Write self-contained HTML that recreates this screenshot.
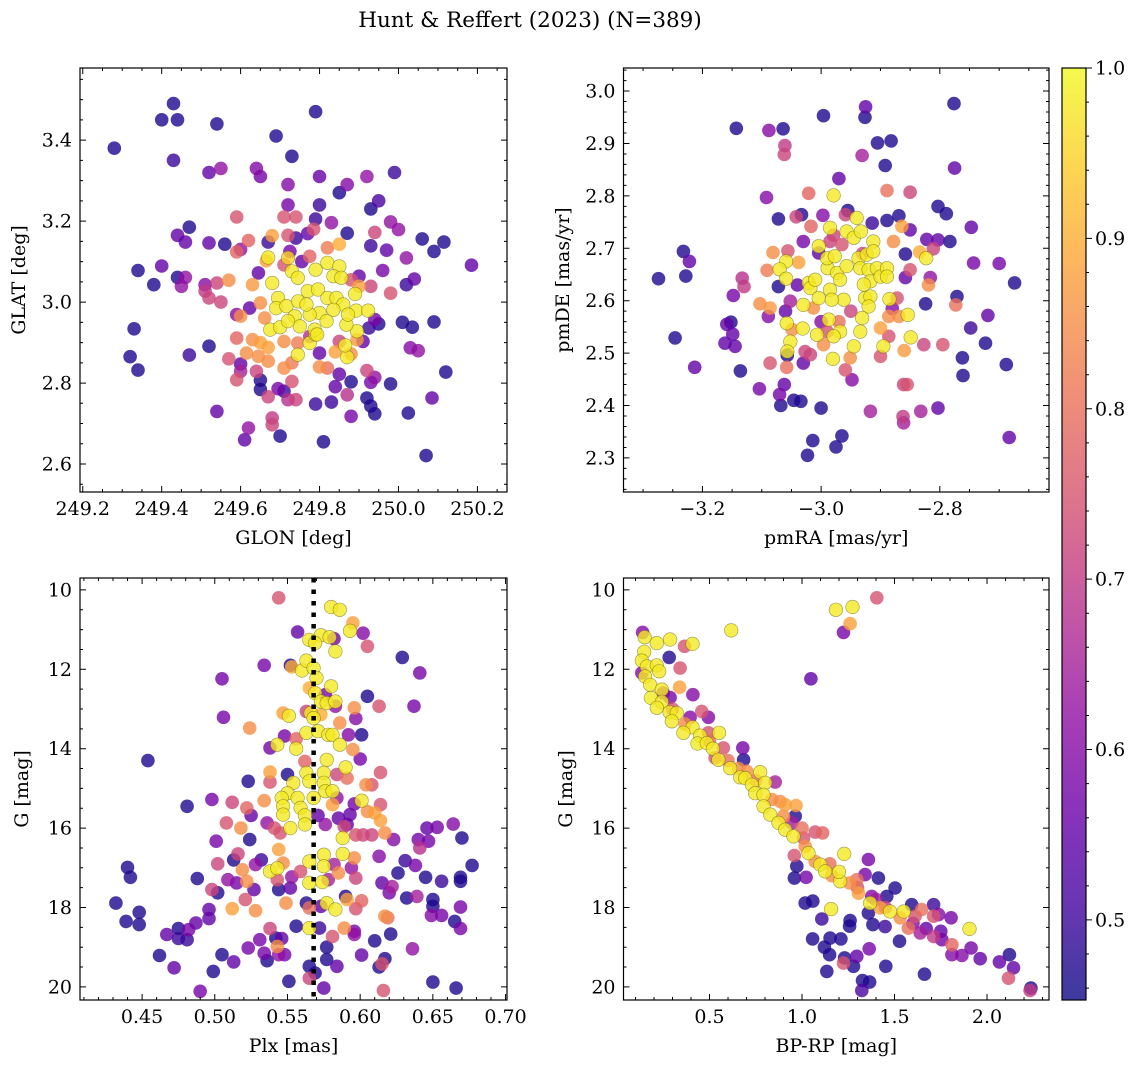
<!DOCTYPE html>
<html><head><meta charset="utf-8">
<style>
html,body{margin:0;padding:0;background:#fff;}
svg{display:block;}
text{font-family:"DejaVu Serif","Liberation Serif",serif;fill:#000;}
</style></head>
<body>
<svg id="fig" width="1136" height="1068" viewBox="0 0 1136 1068" xmlns="http://www.w3.org/2000/svg">
<text x="530" y="27" font-size="21.5" text-anchor="middle">Hunt &amp; Reffert (2023) (N=389)</text>
</svg>
<script>
// ---- Panel 1: GLON / GLAT ----
const p1Lon=[249.28,249.40,249.43,249.44,249.54,249.43,249.69,249.79,249.73,249.52,
249.55,249.64,249.65,249.72,249.80,249.85,249.87,249.92,249.99,249.72,
249.80,249.93,249.95,249.59,249.71,249.74,249.79,249.83,249.98,250.00,
249.94,249.47,249.44,249.46,249.52,249.56,249.62,249.59,249.60,249.68,
249.72,249.67,249.74,249.77,249.785,249.87,249.93,249.97,250.06,250.115,
250.09,250.185,250.02,249.96,250.04,250.02,249.98,249.34,249.40,249.38,
249.44,249.46,249.45,249.51,249.51,249.54,249.57,249.52,249.55,249.33,
249.32,249.34,249.47,249.52,249.59,249.57,249.60,249.60,249.59,249.64,
249.65,249.65,249.67,249.695,249.71,249.73,249.72,249.74,249.54,249.62,
249.61,249.68,249.68,249.70,249.81,250.07,249.79,249.83,249.84,249.85,
249.88,249.87,249.88,249.92,249.93,249.94,249.93,249.94,249.92,249.98,
250.025,250.085,250.12,250.03,250.05,250.01,250.035,250.09,249.95,249.94,
249.925,249.80,249.80,249.82,249.84,249.88,249.87,249.895,249.91,249.615,
249.645,249.67,249.71,249.73,249.63,249.65,249.67,249.71,249.745,249.745,
249.775,249.79,249.865,249.895,249.675,249.70,249.59,249.60,249.65,249.63,
249.645,249.665,249.67,249.71,249.72,249.725,249.755,249.775,249.82,249.85,
249.82,249.85,249.79,249.73,249.745,249.68,249.835,249.855,249.88,249.9,
249.9,249.93,249.89,249.893,249.923,249.695,249.69,249.716,249.746,249.77,
249.796,249.82,249.843,249.86,249.835,249.8,249.775,249.737,249.767,249.818,
249.788,249.75,249.72,249.868,249.872,249.794,249.623,249.661,249.775,249.85];
const p1Lat=[3.38,3.45,3.49,3.45,3.44,3.35,3.41,3.47,3.36,3.32,
3.33,3.33,3.31,3.29,3.31,3.27,3.29,3.31,3.32,3.24,
3.24,3.23,3.25,3.21,3.21,3.21,3.205,3.196,3.198,3.179,
3.172,3.185,3.165,3.148,3.146,3.143,3.152,3.124,3.13,3.164,
3.165,3.148,3.158,3.169,3.18,3.17,3.139,3.128,3.156,3.148,
3.125,3.091,3.109,3.078,3.057,3.043,3.022,3.078,3.089,3.043,
3.061,3.061,3.039,3.043,3.027,3.047,3.054,3.01,3.0,2.934,
2.865,2.832,2.869,2.891,2.911,2.86,2.847,2.829,2.808,2.829,
2.807,2.784,2.766,2.786,2.78,2.804,2.759,2.759,2.73,2.689,
2.66,2.714,2.697,2.669,2.655,2.621,2.748,2.753,2.791,2.822,
2.803,2.771,2.718,2.763,2.743,2.724,2.802,2.814,2.831,2.798,
2.726,2.763,2.827,2.887,2.88,2.95,2.938,2.951,2.946,2.957,
2.936,2.874,2.84,2.837,2.877,2.872,2.864,2.907,2.903,2.874,
2.866,2.854,2.837,2.85,2.907,2.9,2.888,2.903,2.899,2.87,
2.899,2.92,2.893,2.928,2.932,2.938,2.969,2.965,2.998,3.043,
3.072,3.102,3.11,3.092,3.109,3.125,3.1,3.113,3.134,3.143,
3.097,3.088,3.08,3.076,3.06,3.047,3.064,3.06,3.055,3.064,
3.039,3.039,3.02,2.979,2.979,3.01,2.985,2.99,3.002,3.027,
3.031,3.01,3.01,2.994,2.981,2.973,2.969,2.965,2.994,2.953,
2.932,2.94,2.953,2.944,2.969,2.92,2.985,2.961,2.915,2.903];
const p1Prob=[.47,.47,.47,.47,.47,.5,.47,.47,.47,.55,
.62,.6,.58,.6,.56,.47,.6,.62,.5,.58,
.5,.47,.52,.75,.75,.75,.5,.62,.62,.62,
.72,.47,.55,.55,.55,.47,.78,.78,.62,.88,
.75,.5,.5,.55,.75,.47,.5,.55,.47,.47,
.47,.55,.62,.58,.55,.5,.75,.47,.55,.47,
.47,.62,.62,.6,.7,.72,.85,.72,.72,.47,
.47,.47,.5,.47,.78,.75,.55,.65,.75,.72,
.47,.47,.72,.58,.5,.75,.68,.72,.55,.62,
.55,.7,.72,.47,.47,.47,.5,.5,.55,.55,
.47,.68,.58,.47,.47,.47,.58,.62,.72,.47,
.47,.55,.47,.6,.62,.47,.47,.47,.47,.58,
.5,.55,.85,.8,.88,.85,.98,.87,.55,.85,
.85,.85,.85,.82,.85,.88,.88,.85,.82,.98,
.98,.98,.98,.98,.98,.98,.6,.85,.85,.87,
.55,.88,.98,.75,.95,.58,.55,.78,.82,.9,
.98,.98,.98,.98,.98,.98,.98,.98,.75,.55,
.88,.72,.98,.98,.98,.98,.98,.98,.98,.98,
.98,.98,.98,.98,.98,.98,.98,.98,.98,.98,
.98,.98,.98,.98,.98,.98,.55,.85,.68,.72];

// ---- Panel 2: pmRA / pmDE ----
const p2PmRA=[-3.274,-3.232,-3.222,-3.228,-3.246,-3.213,-3.143,-3.088,-3.064,-3.061,
-3.062,-2.996,-2.925,-2.926,-2.905,-2.882,-2.892,-2.931,-2.970,-2.776,
-2.775,-3.092,-3.021,-2.979,-2.889,-2.85,-3.072,-3.042,-3.033,-3.017,
-2.997,-2.955,-2.959,-2.94,-2.914,-2.889,-2.869,-2.864,-2.85,-2.803,
-2.789,-2.747,-2.822,-2.803,-2.783,-2.858,-2.834,-2.823,-2.811,-2.743,
-2.7,-2.674,-2.816,-2.819,-2.85,-2.858,-2.878,-2.771,-2.773,-2.824,
-2.719,-2.748,-2.723,-2.795,-2.762,-2.761,-2.688,-2.683,-2.803,-2.832,
-2.861,-2.855,-2.862,-2.861,-2.917,-2.965,-2.975,-3.014,-3.023,-3.0,
-3.046,-3.034,-3.068,-3.07,-3.062,-3.104,-3.136,-3.162,-3.145,-3.149,
-3.159,-3.152,-3.148,-3.133,-3.13,-3.091,-3.103,-3.086,-3.089,-3.072,
-3.081,-3.056,-3.03,-3.004,-3.004,-2.985,-3.038,-3.059,-3.07,-3.059,
-3.052,-3.058,-3.052,-3.057,-3.049,-3.057,-3.058,-3.086,-3.027,-3.018,
-3.03,-3.03,-3.031,-3.021,-3.018,-3.01,-3.004,-3.013,-3.007,-2.996,
-2.99,-2.989,-2.99,-2.985,-2.977,-2.973,-2.968,-2.985,-2.962,-2.982,
-2.987,-2.968,-2.979,-2.98,-2.957,-2.945,-2.933,-2.957,-2.937,-2.934,
-2.923,-2.912,-2.912,-2.92,-2.906,-2.917,-2.9,-2.889,-2.889,-2.928,
-2.926,-2.917,-2.92,-2.931,-2.934,-2.945,-2.951,-2.959,-2.948,-2.9,
-2.886,-2.869,-2.854,-2.885,-2.872,-2.895,-2.886,-2.9,-2.86,-2.849,
-2.827,-2.965,-2.979,-3.04,-2.95,-2.97,-3.0,-2.93,-2.88,-3.06];
const p2PmDE=[2.642,2.694,2.675,2.647,2.529,2.473,2.929,2.925,2.928,2.896,
2.879,2.953,2.970,2.950,2.901,2.905,2.858,2.877,2.833,2.976,
2.853,2.797,2.805,2.801,2.81,2.807,2.756,2.760,2.764,2.742,
2.763,2.772,2.764,2.758,2.748,2.753,2.762,2.742,2.735,2.78,
2.766,2.74,2.717,2.716,2.713,2.689,2.693,2.681,2.699,2.672,
2.671,2.634,2.644,2.63,2.659,2.644,2.713,2.608,2.592,2.594,
2.572,2.548,2.519,2.516,2.491,2.457,2.478,2.339,2.395,2.389,
2.44,2.44,2.379,2.367,2.389,2.342,2.321,2.333,2.305,2.395,
2.410,2.408,2.4,2.421,2.44,2.432,2.466,2.519,2.513,2.536,
2.555,2.559,2.61,2.643,2.627,2.658,2.594,2.586,2.57,2.627,
2.692,2.695,2.713,2.704,2.691,2.713,2.673,2.675,2.66,2.642,
2.599,2.557,2.522,2.503,2.545,2.496,2.473,2.481,2.503,2.497,
2.481,2.592,2.547,2.634,2.624,2.64,2.605,2.586,2.535,2.516,
2.541,2.662,2.681,2.739,2.685,2.653,2.64,2.621,2.602,2.602,
2.564,2.541,2.532,2.489,2.732,2.72,2.732,2.666,2.681,2.662,
2.688,2.713,2.694,2.659,2.662,2.637,2.646,2.662,2.646,2.631,
2.605,2.608,2.589,2.567,2.541,2.513,2.491,2.468,2.449,2.548,
2.57,2.57,2.573,2.603,2.605,2.513,2.532,2.494,2.505,2.53,
2.516,2.707,2.725,2.63,2.58,2.56,2.56,2.69,2.585,2.58];
const p2Prob=[.47,.47,.55,.47,.47,.55,.47,.6,.47,.7,
.72,.47,.55,.47,.47,.47,.47,.65,.55,.47,
.55,.6,.78,.98,.8,.72,.47,.72,.47,.78,
.6,.47,.72,.98,.5,.47,.47,.88,.55,.47,
.47,.55,.55,.55,.47,.47,.9,.98,.72,.58,
.58,.47,.62,.85,.75,.55,.85,.47,.8,.47,
.55,.5,.47,.75,.47,.47,.47,.55,.55,.65,
.72,.75,.7,.65,.65,.47,.47,.47,.47,.47,
.47,.47,.47,.58,.55,.58,.47,.55,.55,.55,
.55,.47,.58,.68,.7,.82,.85,.87,.6,.47,
.85,.75,.58,.98,.55,.72,.88,.98,.98,.98,
.65,.98,.98,.98,.85,.47,.8,.75,.72,.72,
.55,.98,.98,.98,.98,.98,.98,.85,.98,.85,
.75,.98,.98,.98,.98,.98,.98,.98,.98,.98,
.98,.98,.98,.98,.98,.98,.98,.98,.98,.98,
.98,.98,.98,.98,.98,.98,.98,.98,.98,.98,
.98,.98,.98,.98,.98,.98,.85,.75,.6,.88,
.85,.85,.98,.98,.75,.98,.75,.75,.87,.98,
.72,.75,.72,.55,.72,.8,.6,.72,.6,.55];

// ---- Panel 3: Plx / G ----
const p3Plx=[0.544,0.580,0.586,0.595,0.593,0.602,0.605,0.557,0.565,0.573,
0.579,0.582,0.583,0.569,0.629,0.641,0.534,0.552,0.553,0.560,
0.563,0.568,0.505,0.570,0.565,0.580,0.569,0.576,0.573,0.577,
0.583,0.583,0.605,0.613,0.637,0.596,0.506,0.547,0.551,0.563,
0.566,0.568,0.573,0.586,0.597,0.524,0.548,0.556,0.543,0.556,
0.538,0.563,0.571,0.578,0.581,0.586,0.592,0.601,0.595,0.600,
0.454,0.562,0.577,0.590,0.614,0.538,0.550,0.563,0.575,0.584,
0.591,0.523,0.538,0.554,0.565,0.575,0.604,0.608,0.550,0.546,
0.557,0.568,0.576,0.581,0.584,0.601,0.596,0.581,0.614,0.498,
0.512,0.481,0.534,0.547,0.559,0.522,0.525,0.547,0.562,0.571,
0.585,0.593,0.605,0.610,0.614,0.508,0.518,0.536,0.541,0.552,
0.562,0.576,0.589,0.591,0.597,0.602,0.608,0.617,0.623,0.646,
0.653,0.664,0.670,0.640,0.647,0.641,0.501,0.524,0.545,0.588,
0.544,0.575,0.588,0.596,0.613,0.516,0.513,0.532,0.502,0.519,
0.528,0.547,0.565,0.575,0.582,0.594,0.631,0.626,0.638,0.645,
0.656,0.669,0.669,0.677,0.440,0.442,0.488,0.538,0.543,0.522,
0.509,0.515,0.527,0.544,0.552,0.543,0.553,0.559,0.565,0.574,
0.578,0.585,0.597,0.615,0.622,0.620,0.498,0.502,0.632,0.639,
0.650,0.650,0.590,0.591,0.601,0.597,0.577,0.583,0.573,0.563,
0.565,0.549,0.521,0.528,0.512,0.496,0.496,0.432,0.448,0.439,
0.448,0.487,0.467,0.475,0.475,0.481,0.482,0.462,0.472,0.490,
0.499,0.505,0.513,0.523,0.531,0.534,0.538,0.536,0.542,0.543,
0.546,0.544,0.548,0.551,0.556,0.565,0.572,0.565,0.569,0.565,
0.575,0.577,0.577,0.584,0.581,0.589,0.596,0.596,0.601,0.610,
0.617,0.615,0.613,0.616,0.621,0.617,0.619,0.636,0.649,0.656,
0.665,0.669,0.669,0.650,0.666];
const p3G=[10.20,10.43,10.50,10.83,11.03,11.09,11.42,11.06,11.26,11.14,
11.19,11.23,11.55,11.34,11.70,12.09,11.90,11.90,11.94,12.03,
11.78,11.97,12.24,12.22,12.47,12.43,12.60,12.64,12.81,12.85,
12.81,12.93,12.68,12.93,12.93,12.97,13.21,13.10,13.17,13.06,
13.10,13.23,13.14,13.35,13.24,13.48,13.68,13.75,13.90,14.00,
13.98,13.60,13.56,13.65,13.65,13.90,13.65,13.65,14.02,14.26,
14.30,14.32,14.28,14.47,14.60,14.59,14.65,14.61,14.61,14.65,
14.74,14.82,14.84,14.86,14.82,14.86,14.91,14.91,15.12,15.24,
15.24,15.24,15.07,15.07,15.24,15.31,15.39,15.41,15.41,15.28,
15.35,15.45,15.31,15.45,15.49,15.49,15.68,15.66,15.68,15.68,
15.75,15.66,15.58,15.62,15.81,15.87,16.00,15.87,16.00,16.00,
15.91,15.91,15.96,15.91,16.17,16.17,16.17,16.12,16.29,16.00,
15.98,15.90,16.25,16.29,16.33,16.50,16.33,16.29,16.12,16.25,
16.54,16.67,16.65,16.75,16.71,16.65,16.80,16.80,16.90,17.05,
16.92,16.88,16.84,16.96,16.92,17.00,16.82,17.13,16.94,17.24,
17.34,17.24,17.34,16.94,16.99,17.24,17.27,17.09,17.01,17.34,
17.30,17.38,17.55,17.55,17.51,17.30,17.23,17.09,17.38,17.36,
17.30,17.13,17.26,17.38,17.47,17.63,17.55,17.63,17.76,17.72,
17.80,17.97,17.72,17.80,17.83,18.03,17.89,18.05,17.97,17.89,
18.01,17.89,17.80,18.08,18.03,18.05,18.28,17.89,18.12,18.35,
18.43,18.39,18.68,18.53,18.78,18.81,18.56,19.21,19.52,20.11,
19.61,19.19,19.37,19.02,18.81,19.15,18.53,19.34,18.77,18.98,
18.78,19.19,19.19,19.86,18.47,18.52,18.52,19.48,19.65,19.78,
20.03,19.00,19.31,19.48,18.73,18.52,18.60,18.68,19.20,18.84,
19.29,19.42,19.50,20.09,18.67,18.22,18.26,19.04,18.20,18.20,
18.35,18.53,17.99,19.88,20.03];
const p3Prob=[.75,.98,.98,.88,.98,.6,.75,.55,.98,.98,
.98,.58,.98,.98,.47,.58,.58,.47,.9,.98,
.98,.98,.58,.98,.9,.98,.98,.58,.98,.98,
.98,.62,.47,.75,.58,.85,.58,.88,.98,.72,
.98,.98,.9,.85,.6,.85,.58,.78,.98,.98,
.58,.98,.98,.98,.98,.98,.6,.47,.85,.58,
.47,.78,.98,.98,.75,.88,.47,.98,.98,.72,
.8,.47,.75,.98,.98,.98,.85,.75,.98,.98,
.98,.98,.98,.98,.62,.98,.58,.88,.75,.58,
.72,.47,.85,.98,.98,.78,.55,.98,.98,.55,
.55,.55,.85,.88,.88,.75,.85,.62,.75,.98,
.98,.62,.72,.55,.75,.72,.72,.85,.6,.55,
.58,.6,.47,.58,.58,.68,.58,.47,.75,.98,
.88,.98,.98,.85,.6,.72,.47,.5,.72,.85,
.62,.85,.98,.98,.65,.62,.5,.47,.58,.47,
.5,.47,.47,.47,.47,.47,.47,.98,.98,.85,
.62,.58,.55,.47,.55,.75,.62,.75,.98,.98,
.65,.85,.72,.55,.65,.58,.72,.47,.47,.65,
.47,.47,.47,.88,.78,.75,.98,.98,.55,.47,
.8,.85,.75,.85,.88,.55,.55,.47,.47,.47,
.47,.55,.55,.47,.5,.5,.58,.47,.55,.58,
.47,.47,.55,.58,.58,.58,.72,.47,.47,.85,
.55,.62,.58,.47,.47,.98,.5,.47,.47,.72,
.55,.47,.47,.55,.75,.85,.58,.62,.55,.47,
.47,.75,.47,.75,.47,.85,.8,.62,.6,.58,
.47,.58,.58,.47,.47];
const p3PlxRef=[0.568];

// ---- Panel 4: BP-RP / G ----
const p4BpRp=[0.138,0.149,0.215,0.287,0.365,0.408,0.617,1.183,1.273,1.26,
1.224,1.404,1.048,0.147,0.282,0.134,0.161,0.215,0.228,0.341,
0.134,0.152,0.179,0.242,0.338,0.41,0.287,0.183,0.242,0.215,
0.284,0.323,0.296,0.458,0.494,0.395,0.368,0.408,0.359,0.449,
0.494,0.552,0.435,0.485,0.518,0.575,0.53,0.548,0.68,0.684,
0.612,0.657,0.666,0.702,0.693,0.774,0.729,0.801,0.855,0.747,
0.792,0.837,0.882,0.909,0.968,0.792,0.828,0.873,0.963,0.945,
0.909,0.954,1.008,0.958,1.071,1.111,1.017,1.035,1.071,1.098,
1.125,0.972,0.959,1.022,1.228,1.161,1.206,1.257,1.296,1.359,
1.341,1.413,1.305,1.377,1.368,1.458,1.503,1.422,1.476,1.53,
1.575,1.593,1.611,1.647,1.711,1.711,1.738,1.806,1.671,1.639,
1.711,1.756,1.81,1.905,1.914,1.81,1.864,1.963,2.067,2.121,
2.143,2.116,2.237,2.233,1.527,1.449,1.383,1.359,1.26,1.257,
1.157,1.107,1.017,1.058,1.057,1.152,1.21,1.121,1.149,1.23,
1.224,1.296,1.278,1.363,1.453,1.134,1.327,1.323,1.365,1.662,
0.9,1.0,1.15,1.3,1.45,1.6,0.6,0.5,0.3,0.25,
1.55,1.2,0.75,1.4,1.75];
const p4G=[11.07,11.19,11.34,11.25,11.42,11.36,11.02,10.50,10.43,10.85,
11.07,10.20,12.24,11.56,11.70,11.78,11.93,11.90,12.05,11.97,
12.09,12.18,12.39,12.51,12.45,12.64,12.71,12.72,12.82,12.97,
13.08,13.10,13.31,13.06,13.21,13.21,13.38,13.46,13.60,13.67,
13.60,13.60,13.87,13.86,14.00,13.98,14.23,14.28,13.98,14.28,
14.49,14.50,14.72,14.57,14.74,14.59,14.91,14.86,14.84,15.12,
15.16,15.28,15.33,15.41,15.43,15.45,15.66,15.87,15.70,15.87,
16.04,16.21,16.25,16.69,16.10,16.12,16.46,16.63,16.84,16.92,
17.09,16.96,17.26,17.24,16.65,17.20,17.34,17.38,17.30,16.79,
17.17,17.26,17.64,17.72,17.89,17.72,17.51,18.01,18.10,18.26,
18.52,17.93,18.22,18.05,17.93,18.22,18.18,18.26,18.53,18.64,
18.73,18.81,18.94,18.54,19.02,19.19,19.21,19.29,19.37,19.19,
19.52,19.78,20.03,20.09,18.85,18.48,18.43,18.14,18.33,18.47,
18.04,18.29,17.89,17.84,18.79,18.77,18.79,19.00,19.19,19.27,
19.40,19.23,19.48,19.04,19.48,19.61,19.84,20.09,19.88,19.68,
15.7,16.0,16.9,17.5,18.0,18.4,14.3,13.8,13.0,12.6,
18.1,17.1,14.8,17.8,18.6];
const p4Prob=[.6,.98,.98,.98,.75,.98,.98,.98,.98,.88,
.58,.75,.55,.98,.47,.98,.98,.98,.98,.75,
.6,.98,.98,.98,.88,.6,.58,.98,.98,.98,
.98,.98,.98,.75,.6,.6,.85,.98,.98,.98,
.75,.98,.98,.98,.98,.75,.75,.98,.58,.47,
.98,.85,.98,.85,.98,.98,.98,.98,.65,.98,
.98,.85,.85,.88,.88,.98,.98,.98,.47,.65,
.98,.98,.75,.75,.75,.78,.85,.98,.85,.98,
.98,.47,.47,.58,.98,.85,.98,.85,.8,.58,
.58,.47,.88,.6,.98,.47,.47,.88,.98,.85,
.8,.47,.75,.8,.5,.75,.6,.58,.55,.65,
.7,.58,.78,.98,.58,.6,.6,.55,.55,.47,
.55,.75,.47,.7,.47,.5,.47,.47,.47,.47,
.98,.5,.47,.47,.47,.47,.47,.47,.47,.47,
.75,.55,.47,.58,.47,.47,.47,.52,.47,.47,
.85,.8,.8,.75,.72,.6,.8,.8,.75,.6,
.98,.98,.8,.65,.55];

// ---- axis tick values ----
const p1XTicks=[249.2,249.4,249.6,249.8,250.0,250.2];
const p1YTicks=[2.6,2.8,3.0,3.2,3.4];
const p2XTicks=[-3.2,-3.0,-2.8];
const p2YTicks=[2.3,2.4,2.5,2.6,2.7,2.8,2.9,3.0];
const p3XTicks=[0.45,0.50,0.55,0.60,0.65,0.70];
const gTicks=[10,12,14,16,18,20];
const p4XTicks=[0.5,1.0,1.5,2.0];
const cbTicks=[0.5,0.6,0.7,0.8,0.9,1.0];

const NS='http://www.w3.org/2000/svg';
const svg=document.getElementById('fig');
function mk(tag,attrs,parent){const e=document.createElementNS(NS,tag);for(const k in attrs)e.setAttribute(k,attrs[k]);(parent||svg).appendChild(e);return e;}

const VMIN=0.453,VMAX=1.0;
const FS=19;
const plasma=['#0d0887','#41049d','#6a00a8','#8f0da4','#b12a90','#cc4778','#e16462','#f2844b','#fca636','#fcce25','#f0f921'];
function hex(h){return [parseInt(h.substr(1,2),16),parseInt(h.substr(3,2),16),parseInt(h.substr(5,2),16)];}
function cmap(v){let t=(v-VMIN)/(VMAX-VMIN);t=Math.max(0,Math.min(1,t));const s=t*10;const i=Math.min(9,Math.floor(s));const f=s-i;const a=hex(plasma[i]),b=hex(plasma[i+1]);return 'rgb('+a.map((c,k)=>Math.round(c+(b[k]-c)*f)).join(',')+')';}

function fmt(v,d){const s=Math.abs(v).toFixed(d);return (v<-1e-9?'\u2212':'')+s;}

function panel(cfg){
  const g=mk('g',{});
  
  
  const X=v=>cfg.x0+(v-cfg.xd[0])/(cfg.xd[1]-cfg.xd[0])*(cfg.x1-cfg.x0);
  const Y=cfg.yinv?(v=>cfg.y0+(v-cfg.yd[0])/(cfg.yd[1]-cfg.yd[0])*(cfg.y1-cfg.y0)):(v=>cfg.y1-(v-cfg.yd[0])/(cfg.yd[1]-cfg.yd[0])*(cfg.y1-cfg.y0));
  const idx=cfg.xs.map((_,i)=>i).sort((a,b)=>cfg.ps[a]-cfg.ps[b]);
  const pg=mk('g',{},g);
  
  
  idx.forEach(i=>{
    const c=mk('circle',{cx:X(cfg.xs[i]).toFixed(1),cy:Y(cfg.ys[i]).toFixed(1),r:6.8,fill:cmap(cfg.ps[i]),'fill-opacity':0.8},pg);
    
    
    if(cfg.ps[i]>=0.93){c.setAttribute('stroke','rgba(90,90,20,0.6)');c.setAttribute('stroke-width','0.6');}
  });
  if(cfg.vline){cfg.vline.forEach(v=>{const l=mk('line',{x1:X(v),x2:X(v),y1:cfg.y0,y2:cfg.y1,stroke:'#000','stroke-width':4.5,'stroke-dasharray':'4.5,7'},g);
    });}
  const fr=mk('rect',{x:cfg.x0,y:cfg.y0,width:cfg.x1-cfg.x0,height:cfg.y1-cfg.y0,fill:'none',stroke:'#000','stroke-width':1.2},g);
  
  let path='';
  const lo=Math.min(cfg.xd[0],cfg.xd[1]),hi=Math.max(cfg.xd[0],cfg.xd[1]);
  for(let k=Math.ceil(lo/cfg.xmin-1e-6);k*cfg.xmin<=hi+1e-9;k++){const x=X(k*cfg.xmin);path+=`M${x},${cfg.y1}v-3M${x},${cfg.y0}v3`;}
  const ylo=Math.min(cfg.yd[0],cfg.yd[1]),yhi=Math.max(cfg.yd[0],cfg.yd[1]);
  for(let k=Math.ceil(ylo/cfg.ymin-1e-6);k*cfg.ymin<=yhi+1e-9;k++){const y=Y(k*cfg.ymin);path+=`M${cfg.x0},${y}h3M${cfg.x1},${y}h-3`;}
  cfg.xt.forEach(v=>{const x=X(v);path+=`M${x},${cfg.y1}v-6M${x},${cfg.y0}v6`;
    const t=mk('text',{x:x,y:cfg.y1+23,'font-size':FS,'text-anchor':'middle'},g);t.textContent=fmt(v,cfg.xdig);
    });
  cfg.yt.forEach(v=>{const y=Y(v);path+=`M${cfg.x0},${y}h6M${cfg.x1},${y}h-6`;
    const t=mk('text',{x:cfg.x0-8,y:y+6.5,'font-size':FS,'text-anchor':'end'},g);t.textContent=fmt(v,cfg.ydig);
    });
  const tp=mk('path',{d:path,stroke:'#000','stroke-width':1,fill:'none'},g);
  
  const xl=mk('text',{x:(cfg.x0+cfg.x1)/2,y:cfg.y1+52,'font-size':FS,'text-anchor':'middle'},g);xl.textContent=cfg.xlabel;
  
  const yx=cfg.ylx,yy=(cfg.y0+cfg.y1)/2;
  const yl=mk('text',{x:yx,y:yy,'font-size':FS,'text-anchor':'middle',transform:`rotate(-90 ${yx} ${yy})`},g);yl.textContent=cfg.ylabel;
  
}

panel({name:'glon-glat-panel',x0:80,x1:507,y0:68,y1:492,xd:[249.193,250.275],yd:[2.531,3.578],xs:p1Lon,ys:p1Lat,ps:p1Prob,
  xt:p1XTicks,yt:p1YTicks,xdig:1,ydig:1,xmin:0.05,ymin:0.05,xlabel:'GLON [deg]',ylabel:'GLAT [deg]',ylx:25});
panel({name:'proper-motion-panel',x0:623.5,x1:1049,y0:68,y1:492,xd:[-3.333,-2.616],yd:[2.235,3.044],xs:p2PmRA,ys:p2PmDE,ps:p2Prob,
  xt:p2XTicks,yt:p2YTicks,xdig:1,ydig:1,xmin:0.05,ymin:0.02,xlabel:'pmRA [mas/yr]',ylabel:'pmDE [mas/yr]',ylx:569});
panel({name:'parallax-magnitude-panel',x0:80,x1:507,y0:578,y1:1000,xd:[0.4073,0.701],yd:[9.70,20.33],yinv:true,xs:p3Plx,ys:p3G,ps:p3Prob,
  xt:p3XTicks,yt:gTicks,xdig:2,ydig:0,xmin:0.01,ymin:0.5,xlabel:'Plx [mas]',ylabel:'G [mag]',ylx:28,vline:p3PlxRef});
panel({name:'color-magnitude-panel',x0:623.5,x1:1049,y0:578,y1:1000,xd:[0.035,2.335],yd:[9.70,20.33],yinv:true,xs:p4BpRp,ys:p4G,ps:p4Prob,
  xt:p4XTicks,yt:gTicks,xdig:1,ydig:0,xmin:0.1,ymin:0.5,xlabel:'BP-RP [mag]',ylabel:'G [mag]',ylx:572});

// colorbar
(function(){
  const cx0=1062,cx1=1086,cy0=68,cy1=1000;
  const defs=mk('defs',{});
  const lg=mk('linearGradient',{id:'cbg',x1:0,y1:1,x2:0,y2:0},defs);
  plasma.forEach((c,i)=>mk('stop',{offset:(i/10),'stop-color':c,'stop-opacity':0.8},lg));
  const g=mk('g',{});
  
  mk('rect',{x:cx0,y:cy0,width:cx1-cx0,height:cy1-cy0,fill:'url(#cbg)',stroke:'#000','stroke-width':1.2},g);
  const Y=v=>cy1-(v-VMIN)/(VMAX-VMIN)*(cy1-cy0);
  let p='';
  for(let k=23;k<=50;k++){const v=k*0.02;if(v<VMIN||v>VMAX+1e-9)continue;p+=`M${cx1},${Y(v)}h3`;}
  cbTicks.forEach(v=>{const y=Y(v);p+=`M${cx1},${y}h6`;
    const t=mk('text',{x:cx1+9,y:y+6.5,'font-size':FS},g);t.textContent=v.toFixed(1);
    });
  mk('path',{d:p,stroke:'#000','stroke-width':1,fill:'none'},g);
})();
</script>
</body></html>
